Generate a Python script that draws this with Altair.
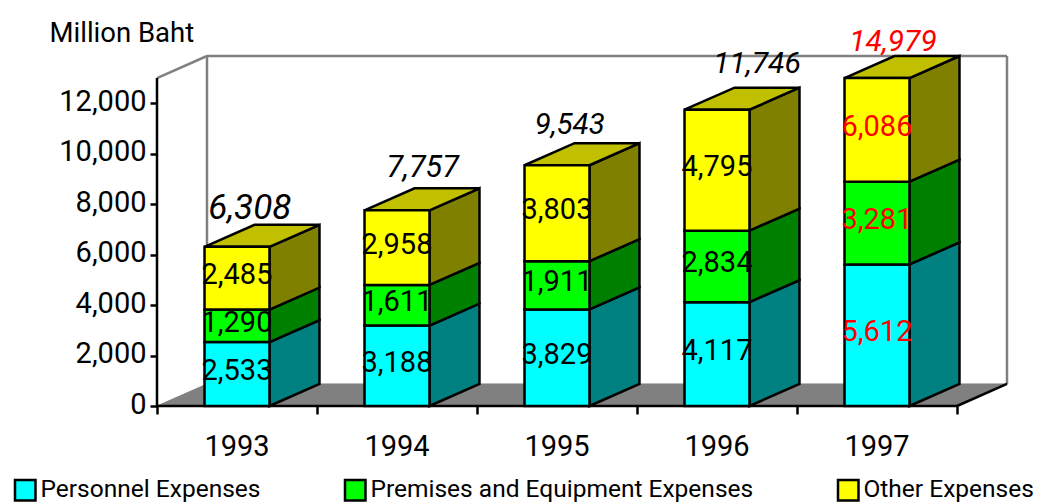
import altair as alt
import pandas as pd

years = ["1993", "1994", "1995", "1996", "1997"]
series = ["Personnel Expenses", "Premises and Equipment Expenses", "Other Expenses"]
personnel = [2533, 3188, 3829, 4117, 5612]
premises = [1290, 1611, 1911, 2834, 3281]
other = [2485, 2958, 3803, 4795, 6086]
totals = [6308, 7757, 9543, 11746, 14979]
total_color = ["black", "black", "black", "black", "red"]
label_color = ["black", "black", "black", "black", "red"]
front_colors = ["#00ffff", "#00ff00", "#ffff00"]
side_colors = ["#008080", "#008000", "#808000"]
top_color = "#c0c000"
total_nudge_x = [0.08, 0.16, 0.08, 0.25, 0.10]
total_nudge_y = [1546, 1665, 1585, 1823, 1427]
total_size = [35, 30.5, 29.5, 30, 30]

FONT = "Roboto"
AXIS_MAX = 13000
DEPTH_Y = 873
DEPTH_X = 0.3125
HALF = 0.203
XMAX = 5 + DEPTH_X
YMAX = AXIS_MAX + DEPTH_Y

faces, fronts, labels = [], [], []
pid = 0
for i, yr in enumerate(years):
    base = 0
    xl, xr = i + 0.5 - HALF, i + 0.5 + HALF
    vals = [personnel[i], premises[i], other[i]]
    for s, v in enumerate(vals):
        top = min(base + v, AXIS_MAX)
        fronts.append(dict(x=xl, xr=xr, y=base, y2=top, series=series[s]))
        labels.append(dict(x=i + 0.5, y=(base + top) / 2, text=f"{v:,}", color=label_color[i]))
        pid += 1
        faces += [
            dict(p=pid, x=xr, y=base, y2=top, c=side_colors[s]),
            dict(p=pid, x=xr + DEPTH_X, y=base + DEPTH_Y, y2=top + DEPTH_Y, c=side_colors[s]),
        ]
        base = top
    pid += 1
    faces += [
        dict(p=pid, x=xl, y=base, y2=base, c=top_color),
        dict(p=pid, x=xl + DEPTH_X, y=base, y2=base + DEPTH_Y, c=top_color),
        dict(p=pid, x=xr, y=base, y2=base + DEPTH_Y, c=top_color),
        dict(p=pid, x=xr + DEPTH_X, y=base + DEPTH_Y, y2=base + DEPTH_Y, c=top_color),
    ]

floor = pd.DataFrame([
    dict(x=0, y=0, y2=0),
    dict(x=DEPTH_X, y=0, y2=DEPTH_Y),
    dict(x=5, y=0, y2=DEPTH_Y),
    dict(x=XMAX, y=DEPTH_Y, y2=DEPTH_Y),
])

rules = pd.DataFrame([
    dict(x=0, y=AXIS_MAX, x2=DEPTH_X, y2=YMAX, c="#808080", w=2.5),
    dict(x=DEPTH_X, y=YMAX, x2=XMAX, y2=YMAX, c="#808080", w=2.5),
    dict(x=DEPTH_X, y=DEPTH_Y, x2=DEPTH_X, y2=YMAX, c="#808080", w=2.5),
    dict(x=XMAX, y=DEPTH_Y, x2=XMAX, y2=YMAX, c="#808080", w=2.5),
    dict(x=5, y=0, x2=XMAX, y2=DEPTH_Y, c="black", w=2.5),
    dict(x=0, y=0, x2=5, y2=0, c="black", w=2.5),
    dict(x=0, y=0, x2=0, y2=AXIS_MAX, c="black", w=2.5),
])

xs = alt.Scale(domain=[0, XMAX], nice=False, zero=False)
ys = alt.Scale(domain=[0, YMAX], nice=False)

X = alt.X("x:Q", scale=xs, title=None,
          axis=alt.Axis(values=[0, 1, 2, 3, 4, 5], labels=False, domain=False, grid=False,
                        tickSize=8, tickWidth=2.5, tickColor="black"))
Y = alt.Y("y:Q", scale=ys, stack=None,
          axis=alt.Axis(values=[0, 2000, 4000, 6000, 8000, 10000, 12000], format=",.0f", domain=False,
                        grid=False, tickSize=7, tickWidth=2.5, tickColor="black",
                        labelFont=FONT, labelFontSize=29, labelColor="black", labelPadding=4,
                        labelOffset=-2,
                        title="Million Baht", titleFont=FONT, titleFontSize=27.5, titleFontWeight="normal",
                        titleAngle=0, titleAlign="left", titleBaseline="alphabetic",
                        titleX=-108, titleY=-15, titleColor="black"))

floor_l = alt.Chart(floor).mark_area(fill="#808080", stroke="#808080", strokeWidth=1).encode(
    x=X, y=Y, y2="y2:Q")
rule_l = alt.Chart(rules).mark_rule().encode(
    x=X, x2="x2:Q", y=Y, y2="y2:Q",
    color=alt.Color("c:N", scale=None), strokeWidth=alt.StrokeWidth("w:Q", scale=None))
face_l = alt.Chart(pd.DataFrame(faces)).mark_area(stroke="black", strokeWidth=2.5, strokeJoin="miter").encode(
    x=X, y=Y, y2="y2:Q",
    detail="p:N", fill=alt.Fill("c:N", scale=None))
front_l = alt.Chart(pd.DataFrame(fronts)).mark_rect(stroke="black", strokeWidth=2.5).encode(
    x=X, x2="xr:Q", y=Y, y2="y2:Q",
    fill=alt.Fill("series:N", scale=alt.Scale(domain=series, range=front_colors),
                  legend=alt.Legend(title=None, orient="none", legendX=-144, legendY=422,
                                    direction="horizontal", columns=3, gridAlign="none",
                                    columnPadding=79, symbolType="square", symbolSize=420,
                                    symbolStrokeColor="black", symbolStrokeWidth=2.5,
                                    symbolOpacity=1, labelFont=FONT, labelFontSize=24.5,
                                    labelColor="black", labelLimit=600, labelOffset=3)))
label_l = alt.Chart(pd.DataFrame(labels)).mark_text(font=FONT, fontSize=29, baseline="middle", dy=-3).encode(
    x=X, y=Y, text="text:N",
    color=alt.Color("color:N", scale=None))
tot = pd.DataFrame(dict(
    x=[i + 0.5 + n for i, n in enumerate(total_nudge_x)],
    y=[min(t, AXIS_MAX) + n for t, n in zip(totals, total_nudge_y)],
    text=[f"{t:,}" for t in totals], color=total_color, size=total_size))
total_l = alt.Chart(tot).mark_text(font=FONT, fontStyle="italic", baseline="middle").encode(
    x=X, y=Y, text="text:N",
    color=alt.Color("color:N", scale=None), size=alt.Size("size:Q", scale=None))
year_l = alt.Chart(pd.DataFrame(dict(x=[i + 0.5 for i in range(5)], y=[0] * 5, text=years))).mark_text(
    font=FONT, fontSize=29, baseline="middle", dy=41, color="black").encode(
    x=X, y=Y, text="text:N")

chart = alt.layer(floor_l, rule_l, face_l, front_l, label_l, total_l, year_l).properties(
    width=850, height=350,
    autosize=alt.AutoSizeParams(type="none"),
    padding=dict(left=149, top=48, right=27, bottom=98),
).configure_view(stroke=None).resolve_scale(color="independent")

chart.save("out.html", embed_options={"renderer": "svg", "actions": False})
